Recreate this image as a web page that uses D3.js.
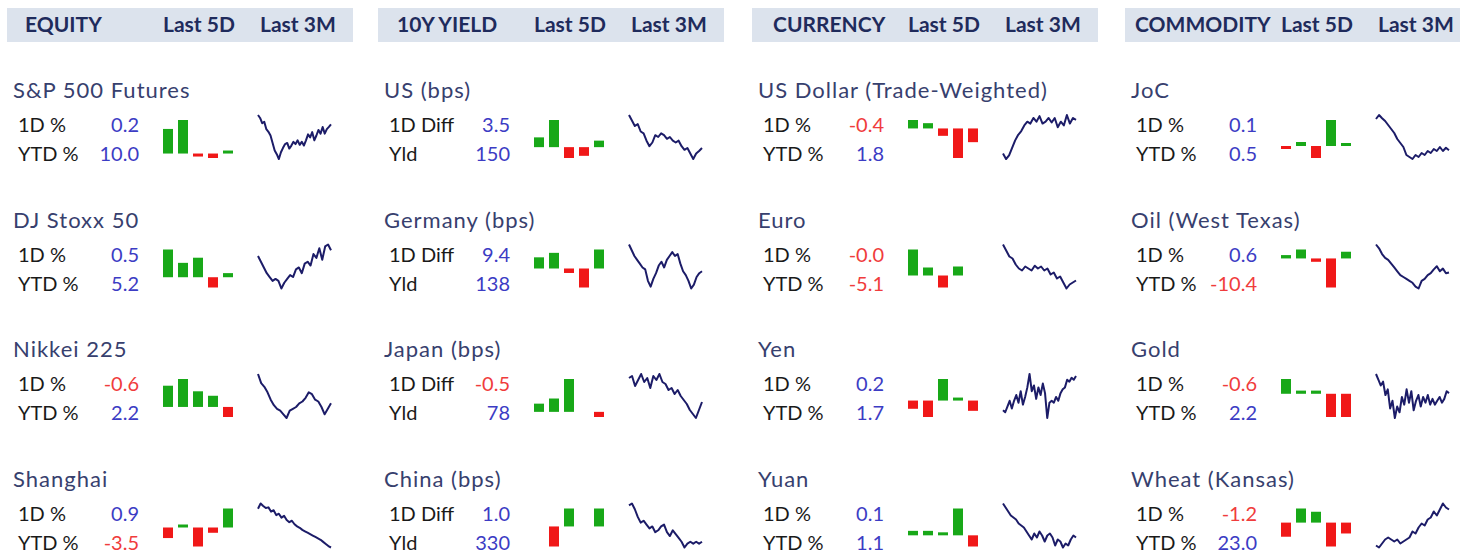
<!DOCTYPE html>
<html>
<head>
<meta charset="utf-8">
<script src="https://cdn.jsdelivr.net/npm/d3@7"></script>
<style>
body { margin: 0; background: #fff; }
svg text { font-family: Lato, "Open Sans", sans-serif; }
</style>
</head>
<body>
<div id="board"></div>
<script>
// column headers and panel names
const sections = ["EQUITY", "10Y YIELD", "CURRENCY", "COMMODITY"];
const periodLabels = ["Last 5D", "Last 3M"];
const names = [
    ["S&P 500 Futures", "DJ Stoxx 50", "Nikkei 225", "Shanghai"],
    ["US (bps)", "Germany (bps)", "Japan (bps)", "China (bps)"],
    ["US Dollar (Trade-Weighted)", "Euro", "Yen", "Yuan"],
    ["JoC", "Oil (West Texas)", "Gold", "Wheat (Kansas)"]
];
const rowLabels = [["1D %", "YTD %"], ["1D Diff", "Yld"], ["1D %", "YTD %"], ["1D %", "YTD %"]];

// headline numbers
const oneDay = [[0.2, 0.5, -0.6, 0.9], [3.5, 9.4, -0.5, 1.0], [-0.4, -0.04, 0.2, 0.1], [0.1, 0.6, -0.6, -1.2]];
const ytd = [[10.0, 5.2, 2.2, -3.5], [150, 138, 78, 330], [1.8, -5.1, 1.7, 1.1], [0.5, -10.4, 2.2, 23.0]];

// last 5 days (null = no print)
const equity5D = [[2.2, 3.0, -0.1, -0.4, 0.1], [2.7, 1.4, 1.9, -1.0, 0.4], [1.9, 2.5, 1.4, 1.0, -0.9], [-1.0, 0.1, -1.8, -0.5, 1.8]];
const yield5D = [[0.9, 2.5, -1.0, -0.8, 0.6], [1.0, 1.4, -0.4, -1.7, 1.7], [0.8, 1.3, 3.2, null, -0.5], [null, -1.9, 1.7, null, 1.7]];
const currency5D = [[0.8, 0.5, -0.7, -2.8, -1.3], [2.6, 0.8, -1.2, 0.9, null], [-0.8, -1.6, 2.1, 0.2, -1.0], [0.4, 0.4, 0.2, 2.4, -1.0]];
const commodity5D = [[-0.3, 0.4, -1.2, 2.6, 0.3], [0.3, 0.8, -0.3, -2.6, 0.6], [1.4, 0.3, 0.3, -2.2, -2.2], [-1.3, 1.3, 1.0, -2.2, -1.0]];

// last 3 months (relative level)
const equity3M = [
    [150, 142, 128, 132, 112, 105, 95, 75, 55, 45, 32, 50, 62, 72, 75, 60, 68, 78, 72, 82, 70, 78, 68, 82, 98, 90, 104, 82, 95, 110, 100, 118, 100, 112, 118, 125],
    [165, 150, 135, 120, 110, 100, 105, 100, 80, 95, 105, 115, 110, 130, 135, 120, 145, 150, 140, 170, 160, 185, 155, 190, 195, 180],
    [180, 155, 145, 130, 110, 95, 85, 80, 70, 60, 80, 85, 90, 100, 105, 115, 130, 125, 110, 105, 90, 70, 85, 100],
    [180, 195, 188, 182, 184, 172, 176, 162, 166, 155, 160, 148, 142, 146, 136, 130, 126, 120, 116, 112, 108, 104, 100, 96, 92, 86, 80, 74, 70]
];
const yield3M = [
    [150, 135, 120, 125, 105, 100, 80, 65, 75, 95, 90, 100, 95, 85, 90, 80, 75, 80, 65, 55, 60, 45, 30, 45, 52, 60],
    [195, 180, 165, 155, 145, 135, 130, 100, 85, 105, 120, 140, 150, 135, 155, 165, 175, 165, 170, 145, 125, 115, 100, 80, 90, 110, 120, 125],
    [160, 165, 140, 155, 170, 150, 160, 135, 165, 155, 170, 150, 145, 130, 135, 120, 130, 115, 105, 95, 80, 70, 60, 80, 100],
    [190, 195, 180, 160, 145, 150, 140, 130, 135, 120, 125, 135, 140, 120, 110, 125, 115, 105, 95, 80, 90, 95, 90, 95, 90, 95]
];
const currency3M = [
    [45, 30, 40, 60, 80, 95, 105, 120, 130, 125, 140, 130, 145, 125, 130, 140, 128, 140, 115, 130, 120, 148, 125, 140, 135],
    [195, 180, 165, 160, 145, 135, 130, 140, 135, 130, 142, 135, 140, 130, 135, 120, 125, 110, 115, 100, 85, 95, 100, 105],
    [80, 75, 90, 105, 85, 105, 120, 100, 130, 95, 115, 140, 175, 130, 145, 110, 140, 120, 150, 125, 60, 100, 105, 100, 115, 105, 125, 135, 140, 160, 155, 165, 160, 170],
    [190, 180, 170, 160, 155, 150, 140, 135, 130, 120, 110, 100, 115, 105, 120, 110, 95, 110, 115, 105, 85, 100, 95, 80, 90, 85, 100, 110, 105]
];
const commodity3M = [
    [140, 150, 142, 135, 125, 115, 105, 90, 80, 70, 50, 45, 40, 50, 45, 55, 50, 60, 55, 65, 60, 70, 60, 68, 62],
    [195, 185, 170, 160, 155, 145, 135, 125, 115, 110, 105, 100, 95, 85, 80, 100, 105, 115, 120, 130, 138, 125, 132, 120, 122],
    [180, 165, 150, 160, 125, 140, 90, 110, 65, 95, 80, 120, 100, 140, 105, 135, 85, 110, 125, 95, 120, 105, 125, 100, 115, 100, 110, 120, 105, 115, 135, 130],
    [85, 80, 90, 100, 105, 100, 95, 100, 90, 95, 100, 105, 120, 115, 130, 140, 135, 150, 155, 170, 160, 175, 190, 180, 175]
];

const bars5D = [equity5D, yield5D, currency5D, commodity5D];
const lines3M = [equity3M, yield3M, currency3M, commodity3M];

// layout
const colX = [7, 378, 752, 1125];
const headerX = [18, 19, 21, 10];
const rowTop = 98, rowStep = 129.5;

const svg = d3.select("#board")
    .append("svg")
    .attr("width", 1460)
    .attr("height", 554);

function fmt(v, c, k) {
    if (c === 1 && k === 1) return v.toFixed(0); // yields in bps
    return v.toFixed(1);
}

function drawPanel(g, c, r) {
    const y0 = rowTop + rowStep * r;

    g.append("text")
        .attr("x", 6)
        .attr("y", y0)
        .attr("font-size", 22)
        .attr("letter-spacing", 1)
        .attr("fill", "#37406e")
        .text(names[c][r]);

    const nums = [oneDay[c][r], ytd[c][r]];
    [34, 63].forEach((dy, k) => {
        g.append("text")
            .attr("x", 11)
            .attr("y", y0 + dy)
            .attr("font-size", 20)
            .attr("fill", "#1a1a1a")
            .text(rowLabels[c][k]);
        g.append("text")
            .attr("x", 132)
            .attr("y", y0 + dy)
            .attr("text-anchor", "end")
            .attr("font-size", 20)
            .attr("fill", nums[k] < 0 ? "#f03c3c" : "#3c3cc4")
            .text(fmt(nums[k], c, k));
    });

    // last 5D columns
    const vals = bars5D[c][r];
    const x = d3.scaleBand()
        .domain(d3.range(vals.length))
        .range([153.5, 228.5])
        .paddingInner(1 / 3)
        .paddingOuter(1 / 6);
    const present = vals.filter(v => v !== null);
    const y = d3.scaleLinear()
        .domain([Math.min(0, d3.min(present)), Math.max(0, d3.max(present))])
        .range([y0 + 60, y0 + 22]);

    g.selectAll(null)
        .data(vals.map((v, i) => ({v, i})).filter(d => d.v !== null))
        .enter().append("rect")
        .attr("x", d => x(d.i))
        .attr("width", x.bandwidth())
        .attr("y", d => {
            const h = Math.max(3, Math.abs(y(d.v) - y(0)));
            return d.v >= 0 ? y(0) - h : y(0);
        })
        .attr("height", d => Math.max(3, Math.abs(y(d.v) - y(0))))
        .attr("fill", d => d.v >= 0 ? "#18a818" : "#f01818");

    // last 3M line
    const series = lines3M[c][r];
    const lx = d3.scaleLinear().domain([0, series.length - 1]).range([251, 324]);
    const ly = d3.scaleLinear().domain(d3.extent(series)).range([y0 + 61, y0 + 17]);
    g.append("path")
        .datum(series)
        .attr("d", d3.line().x((d, i) => lx(i)).y(d => ly(d)))
        .attr("fill", "none")
        .attr("stroke", "#1c1c68")
        .attr("stroke-width", 2)
        .attr("stroke-linejoin", "round");
}

sections.forEach((section, c) => {
    const g = svg.append("g").attr("transform", `translate(${colX[c]},0)`);

    // header band
    g.append("rect")
        .attr("x", 0)
        .attr("y", 8)
        .attr("width", 346)
        .attr("height", 34)
        .attr("fill", "#dce3ed");

    const heads = [[headerX[c], section], [156, periodLabels[0]], [253, periodLabels[1]]];
    heads.forEach(h => {
        g.append("text")
            .attr("x", h[0])
            .attr("y", 32)
            .attr("font-size", 21)
            .attr("font-weight", "bold")
            .attr("fill", "#1f2b5c")
            .text(h[1]);
    });

    names[c].forEach((name, r) => drawPanel(g, c, r));
});
</script>
</body>
</html>
